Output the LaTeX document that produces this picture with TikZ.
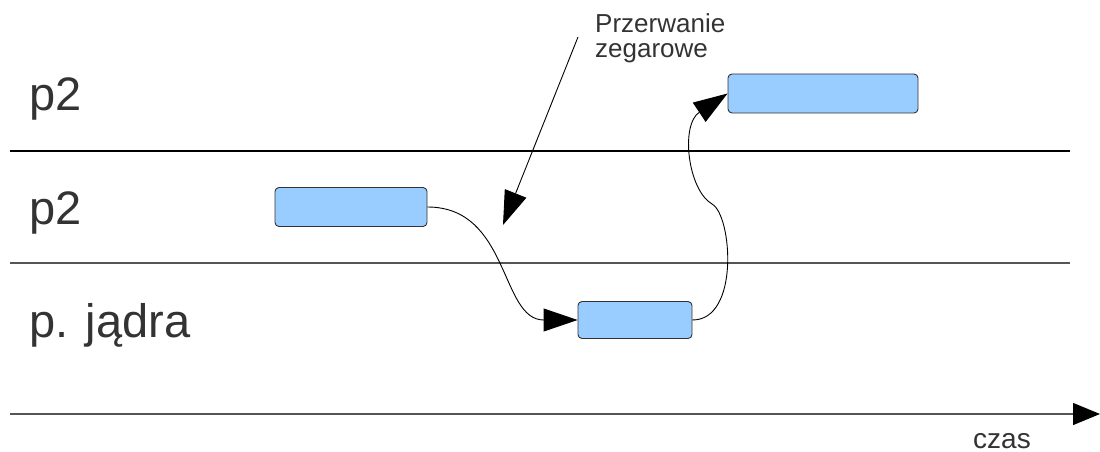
\documentclass[tikz,border=0pt]{standalone}
\usepackage{fontspec}
\setmainfont{Liberation Sans}
\usetikzlibrary{arrows.meta}
\definecolor{boxfill}{RGB}{153,204,255}
\definecolor{txt}{RGB}{51,51,51}
\definecolor{rule}{RGB}{85,85,85}
\tikzset{
  lane/.style={line width=1.2pt},
  procbox/.style={draw=black!80, line width=0.9pt, fill=boxfill, rounded corners=4pt, inner sep=0pt},
  lbl/.style={text=txt, inner sep=0pt, anchor=base west},
  bigtri/.style={-{Triangle[length=34pt,width=23pt]}},
  flow/.style={line width=0.9pt}
}
\begin{document}
\begin{tikzpicture}[x=1pt,y=-1pt]
\useasboundingbox (0,0) rectangle (1100,452);
% lane separators
\coordinate (l1a) at (10,151); \coordinate (l1b) at (1070,151);
\coordinate (l2a) at (10,263); \coordinate (l2b) at (1070,263);
\draw[lane, black] (l1a) -- (l1b);
\draw[lane, rule] (l2a) -- (l2b);
% time axis
\coordinate (ta) at (10,414); \coordinate (tb) at (1100,414);
\draw[lane, rule, -{Triangle[length=27pt,width=22pt,fill=black,color=black]}] (ta) -- (tb);
% lane labels
\node[lbl, font=\fontsize{47}{50}\selectfont] (p2a) at (29,110) {p2};
\node[lbl, font=\fontsize{47}{50}\selectfont] (p2b) at (29,224) {p2};
\node[lbl, font=\fontsize{47}{50}\selectfont] (pk) at (29,337) {p. jądra};
\node[lbl, font=\fontsize{28}{30}\selectfont] (czas) at (973,448) {czas};
% annotation
\node[lbl, font=\fontsize{26}{25}\selectfont] (prz) at (595,33) {Przerwanie};
\node[lbl, font=\fontsize{26}{25}\selectfont] (zeg) at (595,58) {zegarowe};
% boxes
\node[procbox, minimum width=152pt, minimum height=39pt] (b1) at (351,207) {};
\node[procbox, minimum width=114pt, minimum height=37pt] (b2) at (635,320) {};
\node[procbox, minimum width=190pt, minimum height=39pt] (b3) at (823,93.5) {};
% interrupt arrow
\coordinate (intA) at (578,37);
\coordinate (intB) at (503,225);
\draw[flow, bigtri] (intA) -- (intB);
% connectors
\draw[flow, bigtri] (b1.east) .. controls (510,207) and (500,320) .. (b2.west);
\coordinate (kink) at (712,204);
\draw[flow] (b2.east) .. controls (740,320) and (732,215) .. (kink);
\draw[flow, bigtri] (kink) .. controls (688,190) and (680,125) .. (b3.west);
\end{tikzpicture}
\end{document}
